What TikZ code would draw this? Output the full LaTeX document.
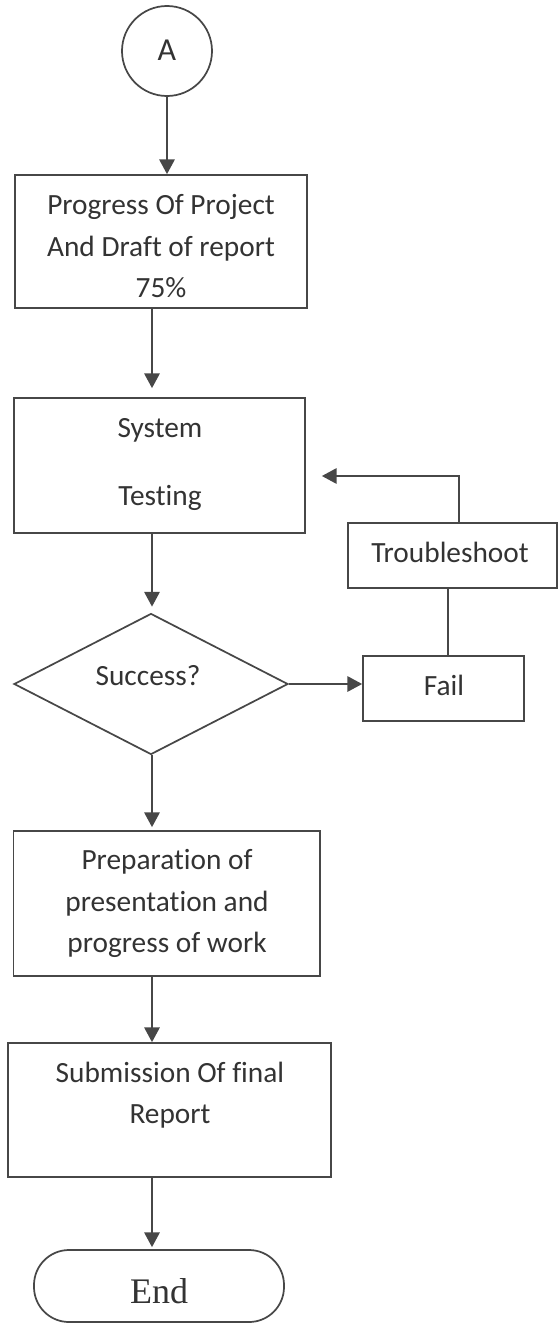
\documentclass[tikz,border=0pt]{standalone}
\usepackage{fontspec}
\setmainfont{Carlito}[Ligatures=NoCommon]
\newfontfamily\endfont{Liberation Serif}
\usetikzlibrary{shapes.geometric,arrows.meta,fit}
\definecolor{lncol}{HTML}{474747}
\definecolor{txcol}{HTML}{333333}
\begin{document}
\begin{tikzpicture}[x=0.75pt,y=-0.75pt,
  box/.style={draw=lncol, line width=1.3pt, inner sep=0pt},
  lbl/.style={anchor=base, inner sep=0pt, text=txcol, font=\fontsize{22}{26}\selectfont},
  arr/.style={draw=lncol, line width=1.3pt, -{Triangle[length=11pt,width=11.5pt]}},
  plain/.style={draw=lncol, line width=1.3pt}
]
\useasboundingbox (0,0) rectangle (558,1323);
% column for the main arrows
\coordinate (col) at (152,0);
% nodes
\node[box, circle, minimum size={90*0.75pt}] (A) at (167,51) {};
\node[lbl, font=\fontsize{24}{28}\selectfont] (At) at (167,61) {A};

\node[box, fit={(15,175) (307,308)}] (b1) {};
\node[lbl] (b1a) at (161,215) {Progress Of Project};
\node[lbl] (b1b) at (161,257) {And Draft of report};
\node[lbl] (b1c) at (161,297) {75\%};

\node[box, fit={(14,398) (305,533)}] (b2) {};
\node[lbl] (b2a) at (160,437) {System};
\node[lbl] (b2b) at (160,505) {Testing};

\node[box, diamond, minimum width={274*0.75pt}, minimum height={141*0.75pt}] (d) at (151,684) {};
\node[lbl] (dt) at (148,685) {Success?};

\node[box, fit={(363,656) (524,721)}] (fail) {};
\node[lbl] (failt) at (444,695) {Fail};

\node[box, fit={(348,523) (557,588)}] (ts) {};
\node[lbl] (tst) at (450,562) {Troubleshoot};

\node[box, fit={(13.5,831) (320,976)}] (b3) {};
\node[lbl] (b3a) at (167,869) {Preparation of};
\node[lbl] (b3b) at (167,911) {presentation and};
\node[lbl] (b3c) at (167,952) {progress of work};

\node[box, fit={(8,1043) (331,1177)}] (b4) {};
\node[lbl] (b4a) at (170,1082) {Submission Of final};
\node[lbl] (b4b) at (170,1123) {Report};

\node[box, fit={(34,1250) (284,1322)}, rounded corners={35*0.75pt}] (end) {};
\node[lbl, font=\endfont\fontsize{27}{30}\selectfont] (endt) at (159,1303) {End};

% connectors
\draw[arr] (A) -- (A |- b1.north);
\draw[arr, shorten >={9*0.75pt}] (b1.south -| col) -- (b2.north -| col);
\draw[arr, shorten >={6*0.75pt}] (b2.south -| col) -- (d.north -| col);
\draw[arr, shorten >={3*0.75pt}] (d.south -| col) -- (b3.north -| col);
\draw[arr] (b3.south -| col) -- (b4.north -| col);
\draw[arr, shorten >={2*0.75pt}] (b4.south -| col) -- (end.north -| col);
\draw[arr] (d.east) -- (d.east -| fail.west);
\coordinate (fc) at (448,0);
\draw[plain] (fail.north -| fc) -- (ts.south -| fc);
\coordinate (tc) at (459,476);
\draw[arr, shorten >={16*0.75pt}] (ts.north -| tc) -- (tc) -- (b2.east |- tc);
\end{tikzpicture}
\end{document}
